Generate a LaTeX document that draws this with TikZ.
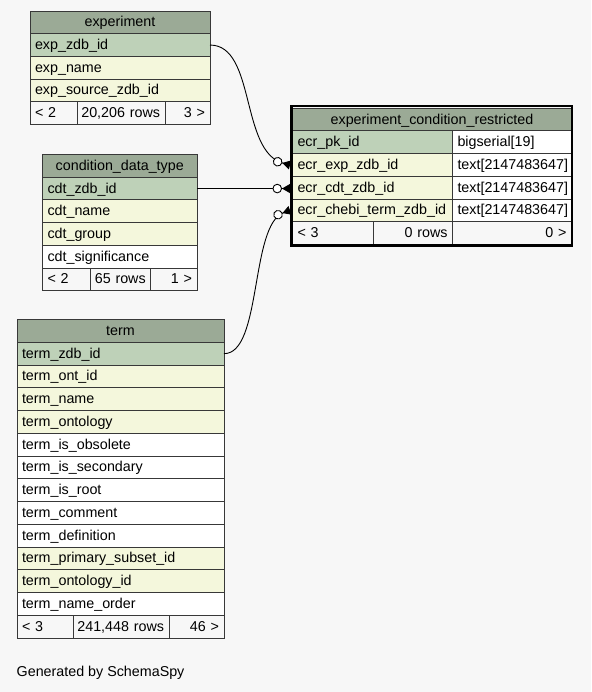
\documentclass[tikz,border=0pt]{standalone}
\usepackage{fontspec}
\setmainfont{Liberation Sans}
\usetikzlibrary{arrows.meta}
\definecolor{bgcol}{HTML}{F7F7F7}
\definecolor{hdcol}{HTML}{9BAA96}
\definecolor{pkcol}{HTML}{BED1B8}
\definecolor{ixcol}{HTML}{F4F7DC}
\newcommand\mytabfont{\fontsize{14.3}{17}\selectfont}
\newcommand\rtext[1]{\hfill\llap{#1}}
\tikzset{
  cell/.style={draw=black!78, line width=0.9pt, outer sep=0pt, inner xsep=5pt, inner ysep=0pt,
    minimum height=22.7pt, text height=11pt, text depth=2pt, anchor=north west,
    font=\mytabfont, align=left},
  hd/.style={cell, fill=hdcol, align=center},
  pk/.style={cell, fill=pkcol},
  ix/.style={cell, fill=ixcol},
  pl/.style={cell, fill=white},
  ft/.style={cell, fill=bgcol},
  ftr/.style={ft, align=right},
  tr/.style={minimum height=22.75pt},
  fk/.style={draw=black, line width=0.9pt,
    -{Circle[fill=white,length=9.5pt,width=9.5pt] Triangle[reversed,length=8pt,width=9pt]}},
}
\begin{document}
\begin{tikzpicture}[x=1pt,y=-1pt]
\fill[bgcol] (0,0) rectangle (591,692);
\useasboundingbox (0,0) rectangle (591,692);

% experiment
\node[hd, text width=170pt] (exp_h) at (30,11) {experiment};
\node[pk, text width=170pt] (exp_zdb) at (30,33.7) {exp\_zdb\_id};
\node[ix, text width=170pt] (exp_name) at (30,56.4) {exp\_name};
\node[ix, text width=170pt] (exp_src) at (30,79.1) {exp\_source\_zdb\_id};
\node[ft, text width=37pt] (exp_f1) at (30,101.8) {< 2};
\node[ftr, text width=78pt] (exp_f2) at (77,101.8) {\rtext{20,206 rows}};
\node[ftr, text width=35pt] (exp_f3) at (165,101.8) {\rtext{3 >}};

% condition_data_type
\node[hd, text width=144.5pt] (cdt_h) at (42.5,154.5) {condition\_data\_type};
\node[pk, text width=144.5pt] (cdt_zdb) at (42.5,177.2) {cdt\_zdb\_id};
\node[ix, text width=144.5pt] (cdt_name) at (42.5,199.9) {cdt\_name};
\node[ix, text width=144.5pt] (cdt_group) at (42.5,222.6) {cdt\_group};
\node[pl, text width=144.5pt] (cdt_sig) at (42.5,245.3) {cdt\_significance};
\node[ft, text width=38.2pt] (cdt_f1) at (42.5,268) {< 2};
\node[ftr, text width=50pt] (cdt_f2) at (90.7,268) {\rtext{65 rows}};
\node[ftr, text width=36.3pt] (cdt_f3) at (150.7,268) {\rtext{1 >}};

% term
\node[hd, tr, text width=197pt] (term_h) at (17,319.5) {term};
\node[pk, tr, text width=197pt] (term_zdb) at (17,342.25) {term\_zdb\_id};
\node[ix, tr, text width=197pt] (term_ont) at (17,365) {term\_ont\_id};
\node[ix, tr, text width=197pt] (term_name) at (17,387.75) {term\_name};
\node[ix, tr, text width=197pt] (term_onto) at (17,410.5) {term\_ontology};
\node[pl, tr, text width=197pt] (term_obs) at (17,433.25) {term\_is\_obsolete};
\node[pl, tr, text width=197pt] (term_sec) at (17,456) {term\_is\_secondary};
\node[pl, tr, text width=197pt] (term_root) at (17,478.75) {term\_is\_root};
\node[pl, tr, text width=197pt] (term_com) at (17,501.5) {term\_comment};
\node[pl, tr, text width=197pt] (term_def) at (17,524.25) {term\_definition};
\node[ix, tr, text width=197pt] (term_pss) at (17,547) {term\_primary\_subset\_id};
\node[ix, tr, text width=197pt] (term_oid) at (17,569.75) {term\_ontology\_id};
\node[pl, tr, text width=197pt] (term_no) at (17,592.5) {term\_name\_order};
\node[ft, tr, text width=46pt] (term_f1) at (17,615.25) {< 3};
\node[ftr, tr, text width=86pt] (term_f2) at (73,615.25) {\rtext{241,448 rows}};
\node[ftr, tr, text width=45pt] (term_f3) at (169,615.25) {\rtext{46 >}};

% experiment_condition_restricted
\node[hd, text width=269pt] (ecr_h) at (292.5,108.2) {experiment\_condition\_restricted};
\node[pk, text width=150pt] (ecr_pk) at (292.5,130.9) {ecr\_pk\_id};
\node[pl, text width=109pt] (ecr_pk_t) at (452.5,130.9) {bigserial[19]};
\node[ix, text width=150pt] (ecr_exp) at (292.5,153.6) {ecr\_exp\_zdb\_id};
\node[pl, text width=109pt] (ecr_exp_t) at (452.5,153.6) {text[2147483647]};
\node[ix, text width=150pt] (ecr_cdt) at (292.5,176.3) {ecr\_cdt\_zdb\_id};
\node[pl, text width=109pt] (ecr_cdt_t) at (452.5,176.3) {text[2147483647]};
\node[ix, text width=150pt] (ecr_chebi) at (292.5,199) {ecr\_chebi\_term\_zdb\_id};
\node[pl, text width=109pt] (ecr_chebi_t) at (452.5,199) {text[2147483647]};
\node[ft, text width=70.8pt] (ecr_f1) at (292.5,221.7) {< 3};
\node[ftr, text width=69.2pt] (ecr_f2) at (373.3,221.7) {\rtext{0 rows}};
\node[ftr, text width=109pt] (ecr_f3) at (452.5,221.7) {\rtext{0 >}};
\draw[black, line width=2.5pt] (291.25,106.25) rectangle (571.75,245.45);

% relationships
\draw[fk] (exp_zdb.east) .. controls (256,45) and (240,152) .. ([xshift=-2.5pt]ecr_exp.west);
\draw[fk] (cdt_zdb.east) -- ([xshift=-2.5pt]ecr_cdt.west |- cdt_zdb.east);
\draw[fk] (term_zdb.east) .. controls (262,354) and (250,225) .. ([xshift=-2.5pt]ecr_chebi.west);

\node[anchor=base west, font=\mytabfont, inner sep=0pt] (gen) at (16.5,676.5) {Generated by SchemaSpy};
\end{tikzpicture}
\end{document}
